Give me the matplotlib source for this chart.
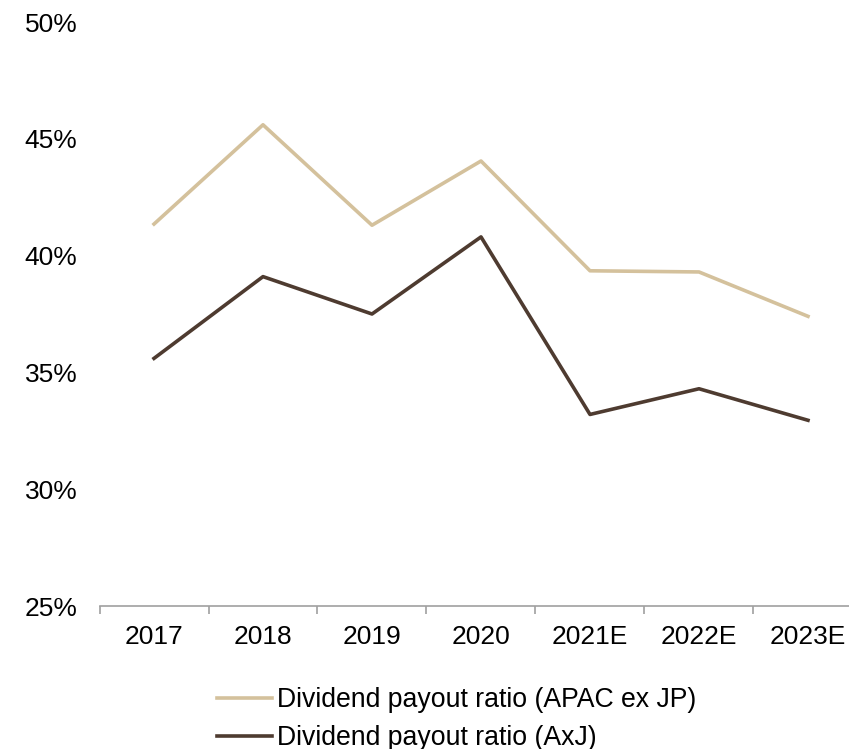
import matplotlib
matplotlib.use('Agg')
import matplotlib.pyplot as plt
import numpy as np

plt.rcParams['font.family'] = ['Liberation Sans', 'DejaVu Sans']

years = ['2017', '2018', '2019', '2020', '2021E', '2022E', '2023E']
apac_ex_jp = [41.35, 45.6, 41.3, 44.05, 39.35, 39.3, 37.4]
axj = [35.6, 39.1, 37.5, 40.8, 33.2, 34.3, 32.95]

fig = plt.figure(figsize=(8.49, 7.49), dpi=100)
ax = fig.add_axes([99.5 / 849, 1 - 606 / 749, 763 / 849, (606 - 22) / 749])

x = np.arange(len(years))
ax.plot(x, apac_ex_jp, color='#D4C19C', lw=2.6, label='Dividend payout ratio (APAC ex JP)')
ax.plot(x, axj, color='#4E3B30', lw=2.6, label='Dividend payout ratio (AxJ)')

ax.set_xlim(-0.5, len(years) - 0.5)
ax.set_ylim(25, 50)
ax.set_yticks([25, 30, 35, 40, 45, 50])
ax.set_yticklabels([f'{v}%' for v in [25, 30, 35, 40, 45, 50]])
ax.set_xticks(x)
ax.set_xticklabels(years)
ax.set_xticks(np.arange(-0.5, len(years)), minor=True)

for s in ['top', 'right', 'left']:
    ax.spines[s].set_visible(False)
ax.spines['bottom'].set_color('#A0A0A0')
ax.spines['bottom'].set_linewidth(1.2)

ax.tick_params(axis='y', length=0, pad=16, labelsize=19)
ax.tick_params(axis='x', which='major', length=0, pad=14, labelsize=19)
ax.tick_params(axis='x', which='minor', length=6, width=1.2, color='#A0A0A0', direction='out')

fig.legend(loc='upper left', bbox_to_anchor=(217 / 849, 1 - 687 / 749),
           frameon=False, fontsize=19.2, handlelength=2.05, handletextpad=0.2,
           labelspacing=0.45, borderaxespad=0, borderpad=0)

fig.savefig('out.png', dpi=100)
